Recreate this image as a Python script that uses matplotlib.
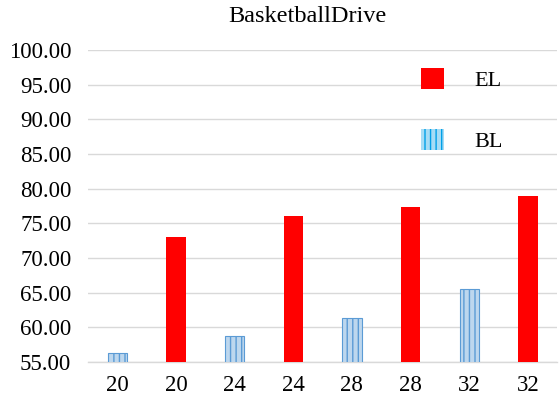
import matplotlib
matplotlib.use("Agg")
import matplotlib.pyplot as plt
from matplotlib.patches import Patch
from matplotlib.ticker import FormatStrFormatter

plt.rcParams['font.family'] = ['Liberation Serif', 'DejaVu Serif']
plt.rcParams['hatch.linewidth'] = 1.0

# one slot per bar, BL and EL alternate along the axis
labels = ['20', '20', '24', '24', '28', '28', '32', '32']
series = ['BL', 'EL', 'BL', 'EL', 'BL', 'EL', 'BL', 'EL']
values = [56.3, 73.0, 58.8, 76.0, 61.3, 77.4, 65.6, 78.9]

fig = plt.figure(figsize=(5.6, 4.05), dpi=100)
ax = fig.add_axes([0.157, 0.106, 0.838, 0.771])

x = list(range(len(labels)))
for i, (s, v) in enumerate(zip(series, values)):
    if s == 'EL':
        ax.bar(i, v, width=0.33, color='#FF0000', zorder=3)
    else:
        ax.bar(i, v, width=0.33, facecolor='#BDD7EE', edgecolor='#5B9BD5',
               hatch='|||', linewidth=0.8, zorder=3)

ax.set_xlim(-0.5, len(labels) - 0.5)
ax.set_ylim(55, 100)
ax.set_yticks([55 + 5 * k for k in range(10)])
ax.yaxis.set_major_formatter(FormatStrFormatter('%.2f'))
ax.set_xticks(x)
ax.set_xticklabels(labels)
ax.tick_params(axis='both', length=0, labelsize=16.5, colors='black')
ax.tick_params(axis='y', pad=12)
ax.tick_params(axis='x', pad=9)

ax.grid(axis='y', color='#D9D9D9', linewidth=1.0, zorder=0)
for side in ['top', 'right', 'left']:
    ax.spines[side].set_visible(False)
ax.spines['bottom'].set_color('#D9D9D9')
ax.spines['bottom'].set_linewidth(1.0)

ax.set_title('BasketballDrive', fontsize=17.5, pad=20, x=0.467)

handles = [Patch(facecolor='#FF0000', edgecolor='none', label='EL'),
           Patch(facecolor='#A6DCF5', edgecolor='#00A0E8', hatch='|||',
                 linewidth=0, label='BL')]
ax.legend(handles=handles, loc='upper left', bbox_to_anchor=(0.668, 1.007),
          frameon=False, fontsize=16, handlelength=1.0, handleheight=1.1,
          handletextpad=1.4, labelspacing=1.7)

fig.savefig('out.png', dpi=100)
